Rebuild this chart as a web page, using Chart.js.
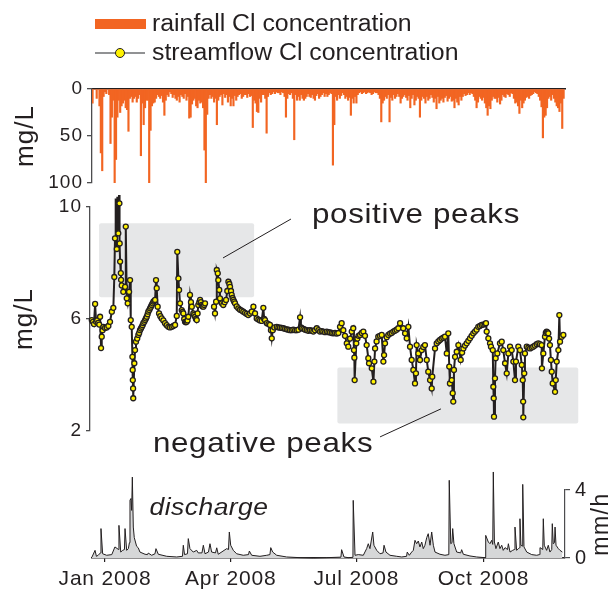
<!DOCTYPE html>
<html>
<head>
<meta charset="utf-8">
<script src="https://cdn.jsdelivr.net/npm/chart.js@4.4.1/dist/chart.umd.min.js"></script>
<style>
  html, body { margin: 0; padding: 0; background: #fff; }
  #wrap { position: relative; width: 613px; height: 592px; }
  #wrap canvas { position: absolute; left: 0; top: 0; }
</style>
</head>
<body>
<div id="wrap">
  <canvas id="rain" width="613" height="592"></canvas>
  <canvas id="cl" width="613" height="592"></canvas>
  <canvas id="flow" width="613" height="592"></canvas>
</div>
<script>
'use strict';

// x values are days counted from 1 Jan 2008
const seriesNames = ['rainfall Cl concentration', 'streamflow Cl concentration', 'discharge'];
const monthTicks = [0, 91, 182, 274];
const monthLabels = ['Jan 2008', 'Apr 2008', 'Jul 2008', 'Oct 2008'];
const rainTicks = [0, 50, 100];
const clTicks = [2, 6, 10];
const flowTicks = [0, 4];

// rainfall Cl concentration (mg/L), one value per day from day -9
const rainFirstDay = -9;
const rainValues = [
  15, 0, 0, 10, 0, 18, 68, 87, 8, 3,
  5, 0, 6, 58, 30, 12, 100, 75, 30, 12,
  25, 18, 15, 12, 20, 22, 45, 10, 8, 14,
  10, 8, 14, 10, 6, 71, 15, 38, 20, 12,
  12, 100, 44, 18, 15, 14, 10, 6, 8, 10,
  7, 14, 28, 12, 6, 8, 3, 5, 9, 6,
  10, 12, 8, 14, 6, 8, 10, 5, 12, 8,
  31, 30, 16, 12, 10, 18, 20, 12, 15, 14,
  20, 65, 100, 27, 10, 6, 10, 8, 14, 10,
  38, 12, 8, 6, 17, 5, 9, 6, 14, 8,
  18, 10, 18, 7, 12, 8, 6, 5, 10, 8,
  6, 6, 9, 5, 8, 7, 41, 12, 15, 24,
  25, 10, 14, 6, 6, 10, 47, 8, 4, 6,
  5, 3, 5, 3, 4, 4, 6, 3, 4, 8,
  30, 10, 5, 6, 4, 10, 54, 6, 12, 8,
  12, 6, 10, 12, 10, 8, 5, 8, 9, 6,
  10, 12, 7, 5, 10, 8, 6, 4, 8, 5,
  8, 6, 4, 5, 81, 38, 8, 12, 6, 10,
  7, 4, 6, 10, 8, 12, 9, 28, 10, 15,
  8, 15, 6, 4, 3, 5, 4, 3, 5, 4,
  3, 4, 6, 5, 3, 4, 4, 6, 10, 35,
  15, 12, 8, 10, 6, 35, 9, 12, 6, 10,
  8, 5, 8, 15, 10, 8, 6, 9, 12, 7,
  20, 10, 6, 17, 12, 8, 10, 30, 12, 8,
  10, 15, 8, 12, 10, 6, 9, 14, 10, 21,
  8, 15, 12, 10, 14, 9, 7, 13, 10, 8,
  13, 12, 20, 10, 14, 17, 8, 12, 8, 5,
  7, 6, 4, 6, 4, 5, 8, 12, 20, 14,
  8, 10, 12, 9, 15, 20, 28, 18, 21, 12,
  8, 10, 10, 14, 9, 16, 12, 6, 8, 9,
  5, 6, 8, 4, 5, 10, 15, 14, 18, 26,
  12, 20, 15, 12, 9, 8, 10, 7, 6, 5,
  3, 4, 5, 8, 12, 19, 52, 30, 28, 20,
  10, 8, 12, 6, 10, 14, 18, 20, 24, 15,
  42, 10
];

// streamflow Cl concentration (mg/L), null = no samples
const clDays = [
  -9.6, -8.8, -8.0, -7.2, -6.5, -5.7, -4.9, -4.2, -3.6, -2.9,
  -2.4, -1.8, -1.2, 0.0, 1.2, 2.4, 3.6, 4.9, 6.0, 6.7,
  7.2, 7.7, 8.5, 8.9, 9.6, 10.1, 10.4, 10.6, 10.9, 11.4,
  11.6, 12.1, 13.2, 14.5, 15.0, 15.7, 16.4, 17.4, 18.1, 18.6,
  19.3, 19.8, 20.0, 20.1, 20.3, 20.4, 21.2, 21.7, 22.4, 23.3,
  24.1, 24.7, 25.3, 26.0, 26.6, 27.2, 27.7, 28.4, 29.0, 29.6,
  30.2, 30.8, 31.3, 32.0, 32.6, 33.2, 33.8, 34.4, 35.0, 35.6,
  36.2, 36.9, 37.4, 38.1, 39.1, 40.0, 41.0, 42.2, 43.4, 44.6,
  45.8, 47.0, 48.3, 49.5, 50.7, 51.9, 52.3, 53.1, 53.6, 54.3,
  55.5, 56.1, 56.7, 57.3, 57.9, 58.5, 59.1, 59.7, 60.3, 61.5,
  62.2, 62.8, 63.9, 64.5, 65.2, 65.8, 66.4, 67.0, 67.5, 68.2,
  68.8, 69.4, 70.0, 70.6, 71.2, 71.8, 72.4, 75.5, 78.9, 79.6,
  80.4, 80.9, 81.6, 82.0, 82.7, 83.2, 84.5, 85.6, 86.6, 87.6,
  88.5, 89.3, 90.0, 90.5, 91.2, 91.7, 92.3, 92.9, 93.5, 94.1,
  95.3, 96.5, 97.7, 98.9, 100.1, 101.3, 102.5, 103.7, 105.0, 106.2,
  107.4, 108.6, 109.8, 111.0, 112.2, 113.4, 114.6, 115.2, 115.8, 117.1,
  118.3, 119.4, 120.1, 120.7, 121.4, 122.6, 124.3, 125.5, 126.7, 127.9,
  129.1, 130.3, 131.5, 132.7, 133.9, 135.1, 136.3, 137.6, 138.8, 140.0,
  141.2, 141.8, 142.4, 143.6, 144.8, 146.0, 147.2, 148.4, 149.6, 150.8,
  152.0, 153.3, 154.5, 155.6, 156.8, 158.0, 159.3, 160.5, 161.7, 162.9,
  164.1, 165.3, 166.5, 167.7, 168.9, 170.1, 171.3, 172.5, 173.7, 175.0,
  176.1, 177.4, 178.6, 179.7, 180.2, 180.5, 180.7, 181.9, 182.7, 183.5,
  184.6, 185.8, 187.0, 188.2, 189.4, 190.6, 191.1, 193.1, 194.3, 195.0,
  195.5, 196.6, 197.8, 199.0, 200.3, 201.5, 202.0, 202.7, 203.9, 205.1,
  206.3, 207.5, 208.7, 209.9, 211.1, 212.3, 213.6, 215.9, 217.2, 218.4,
  219.6, 220.8, 222.0, 223.2, 224.4, 225.1, 225.6, 226.8, 228.0, 229.3,
  230.4, 231.6, 232.9, 234.0, 235.3, 236.5, 236.9, 238.9, 240.1, 241.3,
  242.5, 243.7, 244.9, 246.1, 247.4, 248.5, 249.2, 249.7, 251.0, 251.7,
  252.1, 252.6, 253.4, 254.6, 255.8, 257.5, 258.5, 259.4, 260.6, 261.8,
  263.0, 264.2, 265.4, 266.6, 267.8, 269.0, 270.2, 271.4, 272.7, 273.9,
  275.1, 275.8, 276.3, 277.5, 278.7, 279.4, 280.7, 281.1, 281.4, 281.6,
  282.3, 282.8, 284.0, 285.9, 287.2, 288.3, 289.6, 290.8, 292.0, 293.2,
  294.4, 295.6, 296.8, 297.5, 299.2, 300.4, 301.7, 302.4, 302.7, 302.8,
  303.5, 304.0, 305.3, 306.5, 307.7, 308.9, 310.0, 311.2, 312.5, 313.7,
  314.9, 316.1, 316.3, 317.3, 318.5, 319.1, 319.7, 320.3, 320.9, 321.5,
  322.1, 322.8, 323.4, 324.1, 325.8, 326.3, 327.0, 328.2, 328.9, 329.4,
  330.6, 331.8
];
const clValues = [
  5.96, 5.9, 5.82, 6.54, 5.9, 5.95, 5.86, 5.8, 6.08, 4.96,
  5.37, 5.6, 5.72, 5.68, 5.7, 5.75, 5.9, 6.26, 6.4, 7.5,
  8.88, 10.3, 8.5, 10.37, 9.06, 10.43, 10.13, 8.7, 8.05, 7.64,
  7.4, 7.2, 6.97, 7.15, 9.3, 6.74, 6.56, 6.97, 7.39, 5.96,
  5.72, 4.65, 4.18, 3.82, 3.52, 3.17, 4.42, 4.89, 5.19, 5.3,
  5.43, 5.5, 5.6, 5.66, 5.72, 5.78, 5.85, 5.9, 5.96, 6.02,
  6.08, 6.17, 6.26, 6.32, 6.38, 6.44, 6.5, 6.56, 6.62, 6.65,
  6.68, 7.39, 7.1, 6.44, 6.2, 6.1, 6.02, 5.95, 5.85, 5.78,
  5.72, 5.7, 5.72, 5.75, 5.79, 6.11, 8.4, 7.45, 7.04, 6.56,
  6.32, 6.25, 6.2, 6.0, 5.9, 5.88, 5.9, 5.95, 6.08, 6.86,
  6.6, 6.44, 6.2, 6.15, 6.08, 6.0, 5.96, 6.2, 6.5, 6.6,
  6.68, 6.6, 6.5, 6.45, 6.44, 6.5, 6.56, null, 6.44, 6.2,
  6.62, 7.75, 7.63, 7.39, 7.04, 6.74, 6.56, 6.5, 6.6, 6.68,
  7.0, 7.33, 7.25, 7.15, 7.0, 6.86, 6.75, 6.68, 6.62, 6.56,
  6.45, 6.38, 6.33, 6.3, 6.26, 6.22, 6.18, 6.14, 6.2, 6.26,
  6.44, 6.2, 6.02, 5.98, 5.95, 5.93, 6.4, 6.0, 5.96, 5.85,
  5.82, 5.79, 5.6, 5.31, 5.6, 5.7, 5.72, 5.7, 5.69, 5.68,
  5.67, 5.65, 5.63, 5.62, 5.6, 5.6, 5.62, 5.6, 5.6, 5.62,
  6.06, 5.7, 5.67, 5.65, 5.62, 5.6, 5.58, 5.6, 5.58, 5.55,
  5.6, 5.67, 5.6, 5.55, 5.57, 5.55, 5.53, 5.55, 5.53, 5.52,
  5.5, 5.49, 5.5, 5.48, 5.5, 5.72, 5.85, 5.6, 5.4, 5.13,
  5.01, 5.3, 5.55, 5.67, 4.89, 4.62, 3.82, 5.13, 5.3, 5.4,
  5.43, 5.5, 5.55, 5.4, 5.07, 4.6, 4.42, 4.24, 3.76, 4.48,
  4.95, 5.2, 5.37, 5.4, 5.43, 4.48, 4.71, 5.13, 5.35, 5.43,
  5.48, 5.5, 5.55, 5.58, 5.62, 5.67, 5.85, 5.67, 5.49, 5.31,
  5.72, 5.01, 4.54, 4.18, 3.7, 4.06, 5.07, 4.77, 4.54, 4.89,
  5.0, 5.07, 4.54, 4.12, 3.82, 3.52, 3.94, 4.95, 5.13, 5.2,
  5.25, 5.3, 5.33, 5.37, 4.77, 5.49, 4.3, 3.7, 3.82, 3.35,
  3.05, 4.18, 4.65, 4.83, 5.07, 4.54, 4.8, 4.95, 5.05, 5.13,
  5.22, 5.31, 5.4, 5.49, 5.55, 5.62, 5.72, 5.75, 5.79, 5.8,
  5.82, 5.85, 5.55, 5.31, 5.13, 5.01, 4.89, 3.58, 3.17, 2.51,
  3.88, 4.6, 4.77, 5.13, 5.19, 4.89, 4.42, 4.06, 4.77, 5.01,
  4.89, 4.48, 3.82, 4.48, 5.01, 4.89, 4.36, 3.82, 3.05, 2.49,
  4.06, 4.77, 5.01, 4.98, 4.95, 4.98, 5.01, 5.05, 5.1, 5.13,
  5.1, 5.07, 4.24, 4.77, 5.37, 5.5, 5.55, 5.52, 5.49, 5.3,
  5.07, 4.54, 4.12, 3.7, 3.4, 3.82, 4.48, 4.89, 6.14, 5.19,
  5.37, 5.43
];

// discharge (mm/h)
const flowDays = [
  -9.4, -7.2, -6.2, -4.9, -3.3, -2.9, -1.7, 1.2, 4.9, 7.2,
  9.8, 10.1, 11.4, 12.8, 14.1, 14.5, 15.7, 16.9, 17.7, 18.1,
  18.8, 19.3, 19.8, 20.5, 21.2, 22.9, 24.1, 25.3, 29.0, 30.8,
  31.3, 33.8, 36.2, 36.9, 38.6, 44.7, 51.9, 56.1, 56.7, 57.6,
  59.7, 60.3, 61.5, 63.9, 66.4, 67.5, 70.2, 71.2, 72.4, 74.9,
  76.0, 77.2, 80.0, 80.9, 82.0, 88.1, 89.4, 90.0, 91.0, 92.9,
  95.3, 100.1, 103.9, 104.5, 106.2, 112.2, 117.1, 119.4, 120.0, 121.4,
  124.3, 131.5, 141.2, 150.8, 160.5, 170.8, 171.3, 173.0, 176.1, 179.5,
  179.7, 181.0, 183.4, 187.0, 189.4, 190.6, 191.8, 193.8, 194.7, 196.7,
  199.1, 201.3, 202.0, 203.4, 206.3, 211.2, 214.8, 218.3, 218.8, 220.3,
  222.0, 223.2, 224.4, 225.6, 226.8, 228.0, 229.3, 230.4, 231.6, 232.9,
  234.0, 235.3, 236.5, 237.7, 238.9, 242.5, 246.1, 248.9, 249.2, 250.3,
  251.2, 251.7, 252.6, 254.6, 257.5, 258.2, 259.4, 264.2, 269.1, 275.1,
  275.6, 277.5, 278.7, 279.9, 280.7, 281.1, 281.9, 283.0, 284.7, 285.9,
  287.2, 288.3, 289.6, 291.4, 292.0, 293.2, 295.1, 296.4, 296.8, 298.0,
  299.2, 300.1, 300.4, 301.1, 302.1, 302.4, 303.3, 305.3, 308.9, 312.5,
  314.5, 314.9, 316.9, 317.3, 318.0, 319.7, 320.9, 322.1, 323.4, 323.8,
  324.5, 325.4, 325.8, 326.5, 328.2, 329.4, 331.1
];
const flowValues = [
  0.06, 0.45, 0.1, 0.16, 0.3, 1.73, 0.25, 0.16, 0.2, 0.65,
  0.5, 1.92, 0.35, 0.45, 0.5, 1.73, 0.45, 0.55, 0.9, 3.4,
  3.5, 2.8, 4.76, 1.82, 1.2, 0.69, 0.6, 0.35, 0.22, 0.2,
  0.29, 0.16, 0.25, 0.55, 0.22, 0.1, 0.06, 0.1, 0.75, 0.2,
  0.25, 1.14, 0.55, 0.35, 0.45, 0.3, 0.3, 0.75, 0.25, 0.35,
  0.84, 0.35, 0.3, 0.6, 0.22, 0.55, 0.5, 1.53, 0.75, 0.45,
  0.25, 0.16, 0.2, 0.41, 0.16, 0.1, 0.16, 0.2, 0.61, 0.35,
  0.16, 0.06, 0.02, 0.0, 0.02, 0.05, 0.49, 0.06, 0.02, 0.04,
  3.39, 0.16, 0.2, 0.16, 0.55, 0.84, 0.55, 1.53, 0.75, 0.45,
  0.25, 0.3, 0.75, 0.35, 0.16, 0.1, 0.06, 0.1, 0.35, 0.16,
  0.35, 0.45, 1.04, 0.84, 1.0, 0.65, 0.94, 0.55, 0.75, 1.2,
  1.43, 0.75, 1.53, 0.75, 0.35, 0.22, 0.16, 0.2, 4.57, 0.84,
  0.9, 1.73, 0.84, 0.35, 0.3, 0.49, 0.22, 0.12, 0.06, 0.02,
  1.33, 0.94, 0.84, 1.04, 0.8, 5.06, 0.94, 0.55, 0.94, 0.55,
  0.75, 0.45, 0.61, 0.5, 0.84, 0.35, 0.45, 0.5, 1.82, 0.45,
  0.55, 0.6, 2.31, 0.75, 0.7, 4.33, 0.65, 0.35, 0.2, 0.16,
  0.2, 0.61, 0.5, 2.31, 0.75, 0.45, 0.75, 0.35, 0.5, 2.02,
  0.84, 0.9, 1.82, 0.75, 0.55, 0.45, 0.35
];

// Colours
const ink = '#231f20';
const axisGray = '#4d4d4f';
const orange = '#f26522';
const yellow = '#fff200';
const boxGray = '#e6e7e8';
const flowFill = '#d6d7d8';
const fontFamily = '"Liberation Sans", Arial, Helvetica, sans-serif';

Chart.defaults.font.family = fontFamily;
Chart.defaults.color = ink;

function pairs(xs, ys) {
  return xs.map((x, i) => ({ x: x, y: ys[i] }));
}

function fixedTicks(values) {
  return scale => { scale.ticks = values.map(v => ({ value: v })); };
}

function baseOptions() {
  return {
    responsive: false,
    animation: false,
    devicePixelRatio: 1,
    events: [],
    plugins: { legend: { display: false }, tooltip: { enabled: false } }
  };
}

// the original lettering is wide, so space it out a little
function spacing(px) {
  return { id: 'spacing', beforeDraw(chart) { chart.ctx.letterSpacing = px + 'px'; } };
}

// text drawn a bit wider than the font's own shapes
function wideText(ctx, text, x, y, stretch) {
  ctx.save();
  ctx.translate(x, y);
  ctx.scale(stretch, 1);
  ctx.fillText(text, 0, 0);
  ctx.restore();
}

const keyPlugin = {
  id: 'keyBox',
  afterDraw(chart) {
    const ctx = chart.ctx;
    ctx.save();
    ctx.fillStyle = orange;
    ctx.fillRect(95, 19, 51, 10);
    ctx.strokeStyle = '#6d6e71';
    ctx.lineWidth = 1.5;
    ctx.beginPath();
    ctx.moveTo(95, 53);
    ctx.lineTo(145, 53);
    ctx.stroke();
    ctx.beginPath();
    ctx.arc(120, 53, 4.5, 0, Math.PI * 2);
    ctx.fillStyle = yellow;
    ctx.fill();
    ctx.strokeStyle = ink;
    ctx.lineWidth = 1;
    ctx.stroke();
    ctx.fillStyle = ink;
    ctx.letterSpacing = '0px';
    ctx.font = '23px ' + fontFamily;
    ctx.textAlign = 'left';
    ctx.textBaseline = 'alphabetic';
    wideText(ctx, seriesNames[0], 152, 31, 1.08);
    wideText(ctx, seriesNames[1], 152, 60, 1.08);
    ctx.restore();
  }
};

const peakPlugin = {
  id: 'peaks',
  beforeDatasetsDraw(chart, args, opts) {
    const { ctx, scales: { x, y } } = chart;
    ctx.save();
    ctx.fillStyle = boxGray;
    opts.boxes.forEach(b => {
      const x0 = x.getPixelForValue(b.from), x1 = x.getPixelForValue(b.to);
      const y0 = y.getPixelForValue(b.top), y1 = y.getPixelForValue(b.bottom);
      ctx.beginPath();
      ctx.roundRect(x0, y0, x1 - x0, y1 - y0, 2);
      ctx.fill();
    });
    ctx.strokeStyle = ink;
    ctx.lineWidth = 1;
    opts.notes.forEach(n => {
      ctx.beginPath();
      ctx.moveTo(x.getPixelForValue(n.line[0]), y.getPixelForValue(n.line[1]));
      ctx.lineTo(x.getPixelForValue(n.line[2]), y.getPixelForValue(n.line[3]));
      ctx.stroke();
    });
    ctx.restore();
  },
  afterDatasetsDraw(chart, args, opts) {
    const { ctx, scales: { x, y } } = chart;
    ctx.save();
    ctx.fillStyle = ink;
    ctx.letterSpacing = '0.6px';
    ctx.font = '28px ' + fontFamily;
    ctx.textAlign = 'center';
    ctx.textBaseline = 'alphabetic';
    opts.notes.forEach(n => {
      wideText(ctx, n.text, x.getPixelForValue(n.at[0]), y.getPixelForValue(n.at[1]), 1.12);
    });
    ctx.restore();
  }
};

const flowPlugin = {
  id: 'flowNotes',
  afterDraw(chart, args, opts) {
    const { ctx, scales: { x, y } } = chart;
    ctx.save();
    ctx.fillStyle = ink;
    ctx.textAlign = 'center';
    ctx.textBaseline = 'alphabetic';
    ctx.letterSpacing = '0.4px';
    ctx.font = 'italic 23px ' + fontFamily;
    wideText(ctx, opts.label, x.getPixelForValue(opts.at[0]), y.getPixelForValue(opts.at[1]), 1.15);
    // unit on the right axis, read bottom to top
    ctx.letterSpacing = '1.5px';
    ctx.font = '23px ' + fontFamily;
    ctx.translate(608, (y.top + y.bottom) / 2);
    ctx.rotate(-Math.PI / 2);
    ctx.fillText(opts.unit, 0, 0);
    ctx.restore();
  }
};

// --- top panel: rainfall chloride, bars hanging from zero
const rainOpts = baseOptions();
rainOpts.layout = { padding: { top: 89, right: 48, bottom: 409, left: 0 } };
rainOpts.scales = {
  x: {
    type: 'linear', position: 'top', min: -9.4, max: 333, offset: false,
    ticks: { display: false },
    grid: { display: false },
    border: { color: ink, width: 1.6 },
    afterFit: s => { s.height = 0; }
  },
  y: {
    min: 0, max: 100, reverse: true,
    afterBuildTicks: fixedTicks(rainTicks),
    ticks: { font: { size: 19 }, padding: 4, color: ink },
    grid: { drawOnChartArea: false, tickLength: 5, color: axisGray, lineWidth: 1.3 },
    border: { color: axisGray, width: 1.3 },
    title: { display: true, text: 'mg/L', font: { size: 26 }, color: ink, padding: { top: 10, bottom: 0 } },
    afterFit: s => { s.width = 92; }
  }
};
new Chart(document.getElementById('rain'), {
  type: 'bar',
  data: {
    datasets: [{
      label: seriesNames[0],
      data: rainValues.map((v, i) => ({ x: rainFirstDay + i, y: v })),
      backgroundColor: orange,
      borderWidth: 0,
      barThickness: 1.5
    }]
  },
  options: rainOpts,
  plugins: [spacing(1), keyPlugin]
});

// --- middle panel: streamflow chloride
const clOpts = baseOptions();
clOpts.layout = { padding: { top: 207, right: 48, bottom: 161, left: 0 } };
clOpts.plugins.peaks = {
  boxes: [
    { from: -4.3, to: 107.9, top: 9.42, bottom: 6.78 },
    { from: 168.2, to: 342.6, top: 4.27, bottom: 2.27 }
  ],
  notes: [
    { text: 'positive peaks', at: [225.1, 9.43], line: [134.6, 9.57, 85.4, 8.18] },
    { text: 'negative peaks', at: [114.4, 1.25], line: [243.2, 2.79, 199.1, 1.79] }
  ]
};
clOpts.scales = {
  x: { type: 'linear', min: -10.9, max: 333, display: false },
  y: {
    min: 2, max: 10,
    afterBuildTicks: fixedTicks(clTicks),
    ticks: { font: { size: 19 }, padding: 4, color: ink },
    grid: { drawOnChartArea: false, tickLength: 4, color: axisGray, lineWidth: 1.3 },
    border: { color: axisGray, width: 1.3 },
    title: { display: true, text: 'mg/L', font: { size: 26 }, color: ink, padding: { top: 9, bottom: 0 } },
    afterFit: s => { s.width = 90; }
  }
};
new Chart(document.getElementById('cl'), {
  type: 'line',
  data: {
    datasets: [{
      label: seriesNames[1],
      data: pairs(clDays, clValues),
      borderColor: ink,
      borderWidth: 2,
      pointRadius: 2.5,
      pointBackgroundColor: yellow,
      pointBorderColor: ink,
      pointBorderWidth: 1.3,
      spanGaps: false,
      clip: false
    }]
  },
  options: clOpts,
  plugins: [spacing(1), peakPlugin]
});

// --- bottom panel: discharge
const flowOpts = baseOptions();
flowOpts.layout = { padding: { top: 490, right: 0, bottom: 0, left: 92 } };
flowOpts.plugins.flowNotes = { label: seriesNames[2], at: [75.3, 2.53], unit: 'mm/h' };
flowOpts.scales = {
  x: {
    type: 'linear', position: 'bottom', min: -9.4, max: 333,
    afterBuildTicks: fixedTicks(monthTicks),
    ticks: {
      callback: v => monthLabels[monthTicks.indexOf(v)],
      font: { size: 21 }, padding: 5, maxRotation: 0, autoSkip: false, color: ink
    },
    grid: { drawOnChartArea: false, tickLength: 4, color: ink, lineWidth: 1.2 },
    border: { color: ink, width: 1.6 },
    afterFit: s => { s.height = 34; }
  },
  y: {
    position: 'right', min: 0, max: 4,
    afterBuildTicks: fixedTicks(flowTicks),
    ticks: { font: { size: 20 }, padding: 5, color: ink },
    grid: { drawOnChartArea: false, tickLength: 5, color: axisGray, lineWidth: 1.2 },
    border: { color: axisGray, width: 1.2 },
    afterFit: s => { s.width = 48; }
  }
};
new Chart(document.getElementById('flow'), {
  type: 'line',
  data: {
    datasets: [{
      label: seriesNames[2],
      data: pairs(flowDays, flowValues),
      borderColor: ink,
      borderWidth: 1,
      pointRadius: 0,
      fill: 'origin',
      backgroundColor: flowFill,
      clip: false
    }]
  },
  options: flowOpts,
  plugins: [spacing(0.8), flowPlugin]
});
</script>
</body>
</html>
